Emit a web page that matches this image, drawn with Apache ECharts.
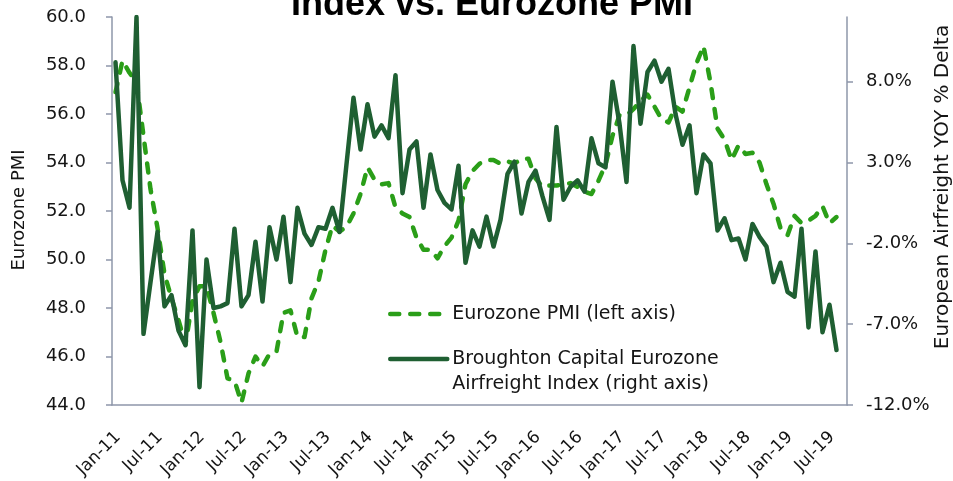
<!DOCTYPE html>
<html>
<head>
<meta charset="utf-8">
<script src="https://cdn.jsdelivr.net/npm/echarts@6/dist/echarts.min.js"></script>
<style>
html, body { margin: 0; padding: 0; background: #fff; }
#chart { width: 953px; height: 481px; }
</style>
</head>
<body>
<div id="chart"></div>
<script>
// Eurozone PMI (left axis) vs. airfreight YOY % delta (right axis), monthly Jan-11 .. Aug-19
const monthNames = ['Jan', 'Feb', 'Mar', 'Apr', 'May', 'Jun', 'Jul', 'Aug', 'Sep', 'Oct', 'Nov', 'Dec']
const months = []
for (let y = 11; y <= 19; y++) {
  for (let m = 0; m < 12; m++) {
    if (y === 19 && m > 8) break
    months.push(monthNames[m] + '-' + y)
  }
}

const pmi = [
  56.9, 58.2, 57.7, 57.3, 55.1, 52.9, 51.3, 49.4, 48.4, 47.5, 46.5, 48.3,      // 2011
  48.9, 48.9, 47.8, 46.6, 45.1, 45.0, 44.1, 45.3, 46.0, 45.6, 46.1, 46.2,      // 2012
  47.8, 47.9, 46.8, 46.8, 48.4, 49.1, 50.4, 51.4, 51.15, 51.35, 51.9, 52.7,    // 2013
  53.8, 53.3, 53.1, 53.15, 52.15, 51.9, 51.75, 50.9, 50.4, 50.4, 50.05, 50.55, // 2014
  50.9, 51.6, 53.1, 53.65, 53.95, 54.1, 54.1, 53.95, 54.05, 53.95, 54.15, 54.15, // 2015
  53.35, 53.0, 53.05, 53.05, 53.1, 53.15, 53.0, 52.8, 52.7, 53.25, 53.9, 55.1,  // 2016
  55.95, 55.95, 56.2, 56.55, 56.8, 56.3, 55.8, 55.65, 56.3, 56.1, 57.1, 58.1,   // 2017
  58.8, 57.3, 55.4, 54.95, 54.1, 54.7, 54.35, 54.4, 54.0, 53.1, 52.3, 51.3,     // 2018
  51.0, 51.8, 51.5, 51.6, 51.8, 52.2, 51.5, 51.75                               // 2019
]

const airfreight = [
  9.2, 1.9, 0.2, 12.0, -7.6, -4.4, -1.3, -5.9, -5.2, -7.4, -8.3, -1.2,
  -10.9, -3.0, -6.0, -5.9, -5.7, -1.1, -5.9, -5.2, -1.9, -5.6, -1.0, -3.0,
  -0.35, -4.4, 0.2, -1.4, -2.1, -1.0, -1.1, 0.2, -1.3, 2.9, 7.0, 3.8,
  6.6, 4.6, 5.3, 4.5, 8.4, 1.1, 3.8, 4.3, 0.2, 3.5, 1.3, 0.5,
  0.1, 2.8, -3.2, -1.2, -2.2, -0.35, -2.2, -0.55, 2.3, 3.05, -0.15, 1.8,
  2.5, 0.9, -0.55, 5.2, 0.7, 1.5, 1.9, 1.2, 4.5, 2.95, 2.7, 8.0,
  5.4, 1.8, 10.2, 5.4, 8.6, 9.3, 8.0, 8.8, 6.0, 4.1, 5.3, 1.1,
  3.5, 2.95, -1.2, -0.45, -1.8, -1.7, -3.0, -0.8, -1.6, -2.2, -4.4, -3.2,
  -5.0, -5.3, -1.1, -7.2, -2.5, -7.5, -5.8, -8.6
]

const rightTicks = [-12, -7, -2, 3, 8]

const pmiName = 'Eurozone PMI (left axis)'
const airName = 'Broughton Capital Eurozone\nAirfreight Index (right axis)'

const font = 'DejaVu Sans'
const textColor = '#151515'
const axisColor = '#8e97aa'
const pmiColor = '#2a9e18'
const airColor = '#1f5f32'

const chart = echarts.init(document.getElementById('chart'))
chart.setOption({
  animation: false,
  backgroundColor: '#fff',
  title: {
    text: 'Broughton Capital Eurozone Airfreight\nIndex vs. Eurozone PMI',
    left: 492, top: -55, textAlign: 'center', padding: 0,
    textStyle: { fontFamily: 'Liberation Sans', fontWeight: 'bold', fontSize: 36, lineHeight: 40, color: '#000' },
  },
  grid: { left: 112, right: 106, top: 17, bottom: 76 },
  legend: [
    {
      data: [pmiName], left: 388, top: 301.5, padding: 0,
      itemWidth: 57, itemHeight: 14, itemStyle: { opacity: 0 },
      lineStyle: { color: pmiColor, width: 4.5, type: [9, 11], cap: 'round' },
      textStyle: { fontFamily: font, fontSize: 19, lineHeight: 25, color: textColor },
    },
    {
      // leading blank line keeps the icon level with the first text line
      data: [airName], left: 388, top: 321.5, padding: 0,
      itemWidth: 57, itemHeight: 14, itemStyle: { opacity: 0 },
      lineStyle: { color: airColor, width: 4.5, type: 'solid', cap: 'round' },
      formatter: (name) => '\n' + name,
      textStyle: { fontFamily: font, fontSize: 19, lineHeight: 25, color: textColor },
    },
  ],
  xAxis: {
    type: 'category', data: months, boundaryGap: true,
    axisLine: { onZero: false, lineStyle: { color: axisColor, width: 1.5 } },
    axisTick: { interval: 5, length: 7, lineStyle: { color: axisColor, width: 1.5 } },
    axisLabel: {
      interval: 5, rotate: 45, margin: 20, verticalAlign: 'top', padding: [0, 5, 0, 0],
      fontFamily: font, fontSize: 17, color: textColor,
    },
  },
  yAxis: [
    {
      type: 'value', min: 44, max: 60, interval: 2, position: 'left',
      axisLine: { show: true, lineStyle: { color: axisColor, width: 1.5 } },
      axisTick: { show: true, length: 6, lineStyle: { color: axisColor, width: 1.5 } },
      splitLine: { show: false },
      axisLabel: { margin: 26, fontFamily: font, fontSize: 18, color: textColor, formatter: (v) => v.toFixed(1) },
    },
    {
      type: 'value', min: -12, max: 12, position: 'right',
      axisLine: { show: true, lineStyle: { color: axisColor, width: 1.5 } },
      axisTick: { show: true, length: 6, customValues: rightTicks, lineStyle: { color: axisColor, width: 1.5 } },
      splitLine: { show: false },
      axisLabel: {
        margin: 19, fontFamily: font, fontSize: 18, color: textColor,
        customValues: rightTicks, formatter: (v) => v.toFixed(1) + '%',
      },
    },
  ],
  graphic: [
    {
      type: 'text', x: 19, y: 210, rotation: Math.PI / 2,
      style: { text: 'Eurozone PMI', fontFamily: font, fontSize: 18, fill: textColor, align: 'center', verticalAlign: 'middle' },
    },
    {
      type: 'text', x: 943, y: 187, rotation: Math.PI / 2,
      style: { text: 'European Airfreight YOY % Delta', fontFamily: font, fontSize: 20, fill: textColor, align: 'center', verticalAlign: 'middle' },
    },
  ],
  series: [
    {
      name: pmiName, type: 'line', yAxisIndex: 0, data: pmi,
      symbol: 'none', smooth: false,
      lineStyle: { color: pmiColor, width: 4.5, type: [9, 11], cap: 'round', join: 'round' },
      itemStyle: { color: pmiColor },
    },
    {
      name: airName, type: 'line', yAxisIndex: 1, data: airfreight,
      symbol: 'none', smooth: false,
      lineStyle: { color: airColor, width: 4.5, cap: 'round', join: 'round' },
      itemStyle: { color: airColor },
    },
  ],
})
</script>
</body>
</html>
